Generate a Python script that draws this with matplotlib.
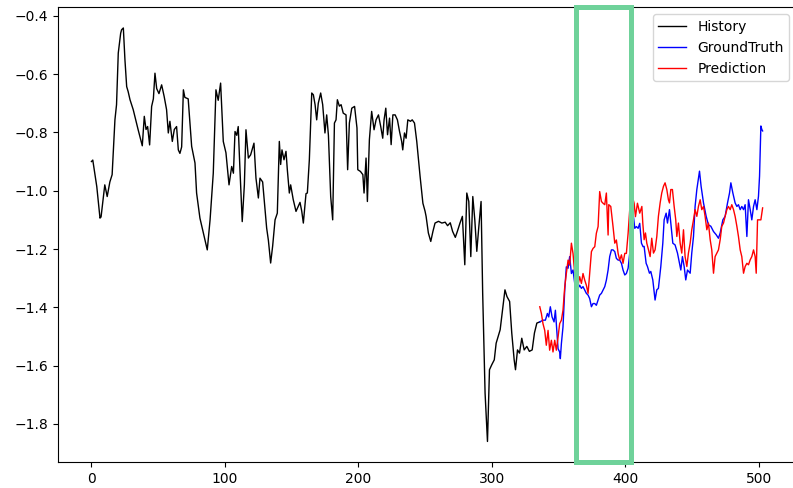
import matplotlib.pyplot as plt
from matplotlib.patches import Rectangle

# history (black)
hist_x = [0, 1, 4, 6.4, 7.2, 10, 11.8, 13.8, 15.5, 17.6,
          18.8, 20.1, 21.9, 22.6, 23.9, 25.1, 26.4, 27.5, 28.9, 31.3,
          35, 38.1, 39.6, 40.9, 42.1, 43.6, 45.1, 46.4, 47.6, 48.9,
          50.6, 52.6, 54.5, 56.3, 57.6, 58.8, 60.6, 62.1, 63.8, 65.1,
          66.3, 67.6, 68.9, 70, 72.5, 75.1, 77.6, 78.8, 81.3, 83.8,
          86.8, 88.9, 91.3, 93.3, 95, 96.8, 98.8, 100.8, 103.1, 105.1,
          106.4, 107.6, 108.9, 110, 111.3, 113, 114.6, 115.8, 117.6, 119.3,
          121.8, 123.3, 125.1, 126.3, 128.3, 131.3, 132.6, 134.3, 135.8, 137.6,
          139.3, 140.8, 141.8, 142.8, 144.3, 145.8, 146.8, 148.3, 149.3, 151.2,
          153.3, 156.3, 157.6, 158.8, 160.8, 161.8, 163.3, 165.1, 166.3, 167.6,
          168.8, 170, 171.8, 173.3, 175, 176.3, 177.6, 179.3, 180.8, 182.1,
          183.3, 184.3, 185.8, 187.1, 188.7, 190.8, 192, 193.3, 195.1, 197.2,
          199, 199.6, 201.6, 203.4, 204.3, 205.8, 206.8, 208.3, 210, 211.8,
          213.3, 215.1, 216.8, 218.3, 219.3, 220.6, 221.9, 223.4, 224.6, 225.9,
          227.6, 229.3, 230.9, 232.5, 233.3, 234.6, 235.8, 237.1, 239.1, 240.4,
          242.1, 243.8, 246.3, 248.4, 250, 250.8, 252.5, 254.3, 255.9, 257.5,
          260.1, 262.6, 265.1, 266.9, 268.9, 270.7, 272.7, 274.2, 276.2, 278,
          279.8, 281.3, 282.8, 284.3, 285.8, 287.3, 288.8, 290.2, 292, 293.2,
          295, 296.8, 298.3, 300, 301.9, 303.3, 304.8, 306.3, 307.8, 309.9,
          311.4, 313.4, 315, 316.8, 317.8, 319.3, 320.8, 322.5, 324.3, 326.3,
          328.2, 330.3, 332, 333.8, 336]
hist_y = [-0.90, -0.895, -0.986, -1.094, -1.09, -0.98, -1.02, -0.97, -0.945, -0.757,
          -0.705, -0.528, -0.46, -0.448, -0.442, -0.551, -0.643, -0.66, -0.688, -0.722,
          -0.791, -0.846, -0.745, -0.79, -0.78, -0.843, -0.711, -0.685, -0.597, -0.65,
          -0.667, -0.637, -0.677, -0.722, -0.802, -0.762, -0.831, -0.79, -0.78, -0.86,
          -0.872, -0.85, -0.654, -0.68, -0.685, -0.848, -0.905, -1.008, -1.094, -1.143,
          -1.203, -1.10, -0.94, -0.654, -0.69, -0.631, -0.831, -0.87, -0.98, -0.917,
          -0.94, -0.797, -0.81, -0.78, -0.928, -1.106, -0.98, -0.791, -0.888, -0.877,
          -0.837, -0.957, -1.025, -0.957, -0.97, -1.128, -1.17, -1.248, -1.19, -1.10,
          -1.077, -0.831, -0.91, -0.86, -0.894, -0.865, -0.928, -1.008, -0.98, -1.03,
          -1.071, -1.04, -1.07, -1.111, -1.01, -1.008, -0.894, -0.665, -0.671, -0.705,
          -0.757, -0.70, -0.665, -0.705, -0.802, -0.74, -0.81, -1.02, -1.10, -0.768,
          -0.757, -0.688, -0.71, -0.705, -0.734, -0.74, -0.928, -0.768, -0.717, -0.711,
          -0.785, -0.928, -0.934, -0.945, -1.008, -0.888, -1.037, -0.825, -0.728, -0.791,
          -0.757, -0.74, -0.78, -0.82, -0.757, -0.717, -0.808, -0.751, -0.842, -0.74,
          -0.74, -0.757, -0.797, -0.831, -0.86, -0.802, -0.82, -0.757, -0.762, -0.757,
          -0.768, -0.831, -0.951, -1.043, -1.07, -1.088, -1.145, -1.174, -1.14, -1.111,
          -1.105, -1.111, -1.108, -1.12, -1.11, -1.14, -1.16, -1.14, -1.111, -1.088,
          -1.254, -1.008, -1.037, -1.226, -1.02, -1.10, -1.208, -1.13, -1.037, -1.351,
          -1.694, -1.86, -1.614, -1.597, -1.58, -1.523, -1.50, -1.477, -1.42, -1.34,
          -1.363, -1.38, -1.488, -1.58, -1.614, -1.546, -1.557, -1.506, -1.546, -1.534,
          -1.551, -1.546, -1.488, -1.454, -1.45]

# ground truth (blue)
gt_x = [336, 338.4, 340.2, 341.7, 342.7, 343.9, 345.2, 346.7, 347.7, 348.9,
        349.7, 350.9, 351.4, 352.2, 353.4, 354.7, 355.9, 357.2, 358.4, 359.7,
        360.9, 362.2, 363.4, 364.7, 365.9, 367.2, 368.4, 369.7, 370.9, 372.2,
        373.4, 374.7, 375.9, 377.2, 378.4, 379.7, 380.9, 382.2, 383.4, 384.7,
        385.9, 387.2, 388.4, 389.7, 390.9, 392.2, 393.4, 394.7, 395.9, 397.2,
        398.4, 399.7, 400.9, 402.2, 403.4, 404.7, 405.9, 407.2, 408.4, 409.7,
        410.9, 412.2, 413.4, 414.2, 415.7, 416.7, 418.2, 419.2, 420.7, 421.7,
        422.4, 423.7, 424.9, 426.7, 428.2, 429.2, 430.7, 431.7, 433.2, 434.2,
        435.7, 437.4, 439.2, 440.7, 441.7, 442.9, 444.2, 445.4, 446.7, 448.7,
        449.9, 451.2, 452.4, 453.7, 455.7, 456.9, 458.7, 460.7, 462.4, 464.2,
        466.2, 468.2, 469.9, 471.2, 473.2, 474.9, 476.7, 478.2, 479.2, 480.7,
        482.4, 483.7, 484.9, 486.2, 487.4, 488.7, 489.9, 491.2, 492.4, 493.7,
        494.9, 496.2, 497.4, 498.7, 499.9, 500.7, 501.7, 502.4, 503]
gt_y = [-1.45, -1.444, -1.444, -1.421, -1.433, -1.398, -1.433, -1.45, -1.41, -1.49,
        -1.542, -1.553, -1.576, -1.524, -1.467, -1.341, -1.261, -1.266, -1.226, -1.284,
        -1.272, -1.318, -1.318, -1.335, -1.324, -1.335, -1.329, -1.341, -1.352, -1.358,
        -1.37, -1.398, -1.387, -1.387, -1.393, -1.375, -1.358, -1.352, -1.341, -1.329,
        -1.307, -1.272, -1.226, -1.203, -1.203, -1.209, -1.232, -1.238, -1.238, -1.249,
        -1.272, -1.289, -1.284, -1.266, -1.215, -1.134, -1.077, -1.129, -1.123, -1.129,
        -1.112, -1.18, -1.192, -1.191, -1.249, -1.26, -1.283, -1.277, -1.306, -1.346,
        -1.375, -1.34, -1.335, -1.26, -1.18, -1.1, -1.077, -1.111, -1.065, -1.111,
        -1.18, -1.186, -1.214, -1.249, -1.272, -1.226, -1.26, -1.306, -1.272, -1.283,
        -1.214, -1.157, -1.054, -0.996, -0.933, -0.985, -1.042, -1.088, -1.117, -1.122,
        -1.14, -1.151, -1.163, -1.145, -1.1, -1.088, -1.042, -1.008, -0.973, -1.008,
        -1.042, -1.054, -1.048, -1.065, -1.054, -1.065, -1.048, -1.157, -1.031, -1.065,
        -1.1, -1.054, -1.031, -1.065, -1.019, -0.95, -0.778, -0.79, -0.795]

# prediction (red)
pred_x = [336, 337.2, 338.4, 339.7, 340.9, 342.2, 343.4, 344.7, 345.9, 347.2,
          348.4, 349.7, 350.9, 352.2, 353.4, 354.7, 355.9, 357.2, 358.4, 359.7,
          360.9, 362.2, 363.4, 364.7, 365.9, 367.2, 368.4, 369.7, 370.9, 372.2,
          373.4, 374.7, 375.9, 377.2, 378.4, 379.7, 380.9, 382.2, 383.4, 384.7,
          385.9, 387.2, 387.7, 389.2, 390.9, 392.2, 393.4, 394.7, 395.9, 397.2,
          398.4, 399.7, 400.9, 402.2, 403.4, 404.7, 406.7, 407.7, 409.2, 410.9,
          412.5, 413.2, 414.2, 415.2, 416.2, 417.5, 418.7, 419.9, 421.2, 422.4,
          423.7, 424.9, 426.2, 427.4, 428.7, 429.9, 431.2, 432.4, 433.2, 434.2,
          435.4, 436.7, 437.9, 438.7, 439.9, 441.2, 442.4, 443.7, 444.9, 446.2,
          447.4, 448.7, 449.9, 451.2, 452.4, 453.7, 454.9, 456.2, 457.4, 458.7,
          459.9, 461.2, 462.4, 463.7, 464.9, 466.2, 467.4, 468.7, 469.9, 471.2,
          472.4, 473.7, 474.9, 476.2, 477.4, 478.7, 479.9, 481.2, 482.4, 483.7,
          484.9, 486.2, 487.4, 488.7, 489.9, 491.2, 492.4, 493.7, 494.9, 496.2,
          497.4, 498.2, 499.2, 500.4, 501.7, 503]
pred_y = [-1.398, -1.421, -1.456, -1.479, -1.53, -1.479, -1.547, -1.513, -1.553, -1.513,
          -1.547, -1.502, -1.456, -1.444, -1.41, -1.33, -1.284, -1.238, -1.255, -1.18,
          -1.215, -1.284, -1.307, -1.324, -1.295, -1.318, -1.284, -1.307, -1.324, -1.352,
          -1.284, -1.209, -1.198, -1.192, -1.146, -1.123, -1.003, -1.037, -1.043, -1.048,
          -1.008, -1.152, -1.048, -1.054, -1.123, -1.18, -1.169, -1.215, -1.238, -1.22,
          -1.249, -1.215, -1.215, -1.146, -1.066, -1.008, -1.043, -1.089, -1.043, -1.077,
          -1.054, -1.111, -1.168, -1.145, -1.18, -1.203, -1.226, -1.163, -1.214, -1.203,
          -1.157, -1.088, -1.042, -1.008, -0.985, -0.973, -0.996, -1.031, -1.042, -0.996,
          -0.996, -1.054, -1.1, -1.157, -1.111, -1.18, -1.214, -1.134, -1.226, -1.26,
          -1.214, -1.18, -1.134, -1.1, -1.065, -1.088, -1.054, -1.031, -1.065, -1.054,
          -1.088, -1.134, -1.111, -1.168, -1.203, -1.283, -1.226, -1.214, -1.203, -1.168,
          -1.122, -1.111, -1.088, -1.065, -1.054, -1.065, -1.048, -1.065, -1.088, -1.122,
          -1.157, -1.203, -1.226, -1.283, -1.26, -1.249, -1.254, -1.237, -1.226, -1.203,
          -1.226, -1.283, -1.1, -1.1, -1.1, -1.059]

# highlighted window (x range)
box_x0 = 362.8
box_x1 = 404.2

fig = plt.figure(figsize=(7.93, 4.88), dpi=100)
# the original screenshot is cropped just left of the right spine
ax = fig.add_axes([0.073, 0.053, 0.931, 0.932])

ax.plot(hist_x, hist_y, color='black', lw=1, label='History')
ax.plot(gt_x, gt_y, color='blue', lw=1, label='GroundTruth')
ax.plot(pred_x, pred_y, color='red', lw=1, label='Prediction')

ax.add_patch(Rectangle((box_x0, 0), box_x1 - box_x0, 1,
                       transform=ax.get_xaxis_transform(),
                       fill=False, edgecolor='#6fd29a', lw=3.6,
                       clip_on=False, zorder=5))

ax.set_xticks([0, 100, 200, 300, 400, 500])
ax.spines['right'].set_visible(False)
ax.legend(loc='upper right')

fig.savefig('out.png', dpi=100)
